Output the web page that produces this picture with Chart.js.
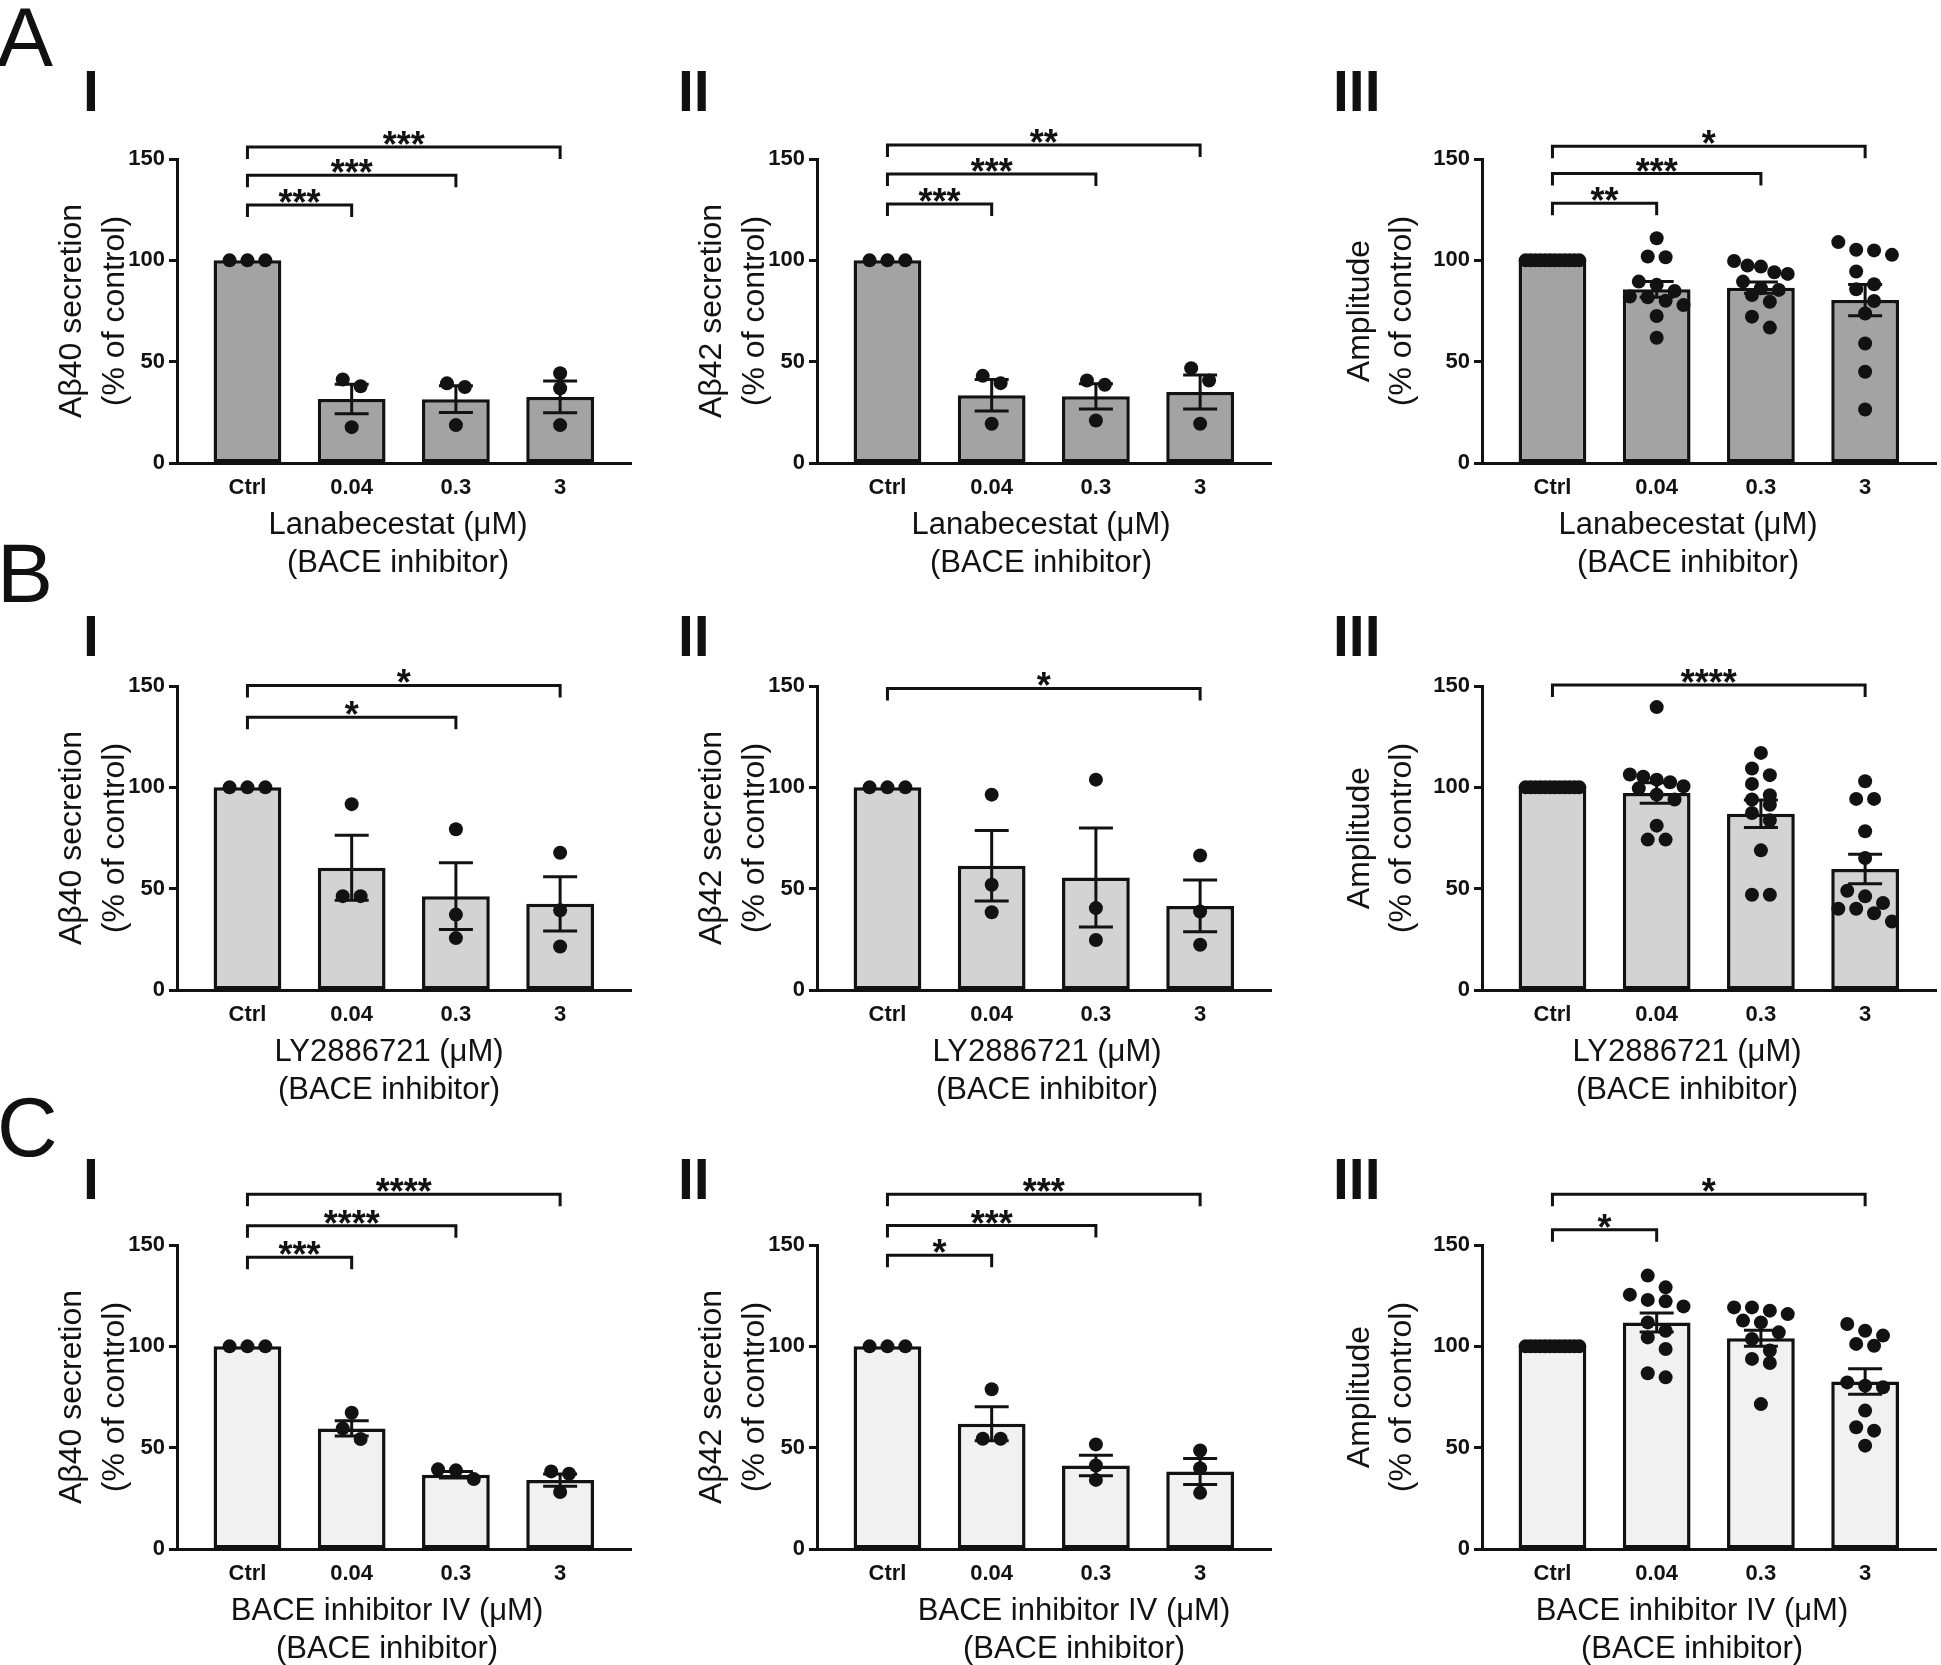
<!DOCTYPE html>
<html>
<head>
<meta charset="utf-8">
<script src="https://cdn.jsdelivr.net/npm/chart.js@4.4.1/dist/chart.umd.min.js"></script>
<style>
  html, body { margin: 0; padding: 0; background: #fff; }
  #page { position: relative; width: 1941px; height: 1665px; overflow: hidden; background: #fff; }
  #page canvas { position: absolute; }
  .lbl { position: absolute; font-family: "Liberation Sans", Arial, sans-serif; color: #111; line-height: 1; z-index: 2; }
  .big { font-size: 84px; }
  .roman { font-size: 57px; font-weight: bold; }
</style>
</head>
<body>
<div id="page">
  <div class="lbl big" style="left:-3px;top:-5px">A</div>
  <div class="lbl big" style="left:-3px;top:531px">B</div>
  <div class="lbl big" style="left:-3px;top:1085px">C</div>

  <div class="lbl roman" style="left:83px;top:63px">I</div>
  <div class="lbl roman" style="left:678px;top:63px">II</div>
  <div class="lbl roman" style="left:1333px;top:63px">III</div>
  <div class="lbl roman" style="left:83px;top:608px">I</div>
  <div class="lbl roman" style="left:678px;top:608px">II</div>
  <div class="lbl roman" style="left:1333px;top:608px">III</div>
  <div class="lbl roman" style="left:83px;top:1151px">I</div>
  <div class="lbl roman" style="left:678px;top:1151px">II</div>
  <div class="lbl roman" style="left:1333px;top:1151px">III</div>
</div>
<script>
// dose-response figure: Abeta secretion and amplitude for three BACE inhibitors

const categories = ["Ctrl", "0.04", "0.3", "3"];

// A - Lanabecestat
const lanaAb40Mean = [100, 31.6, 31.5, 32.6];
const lanaAb40Sem = [0, 7.3, 6.6, 7.8];
const lanaAb40Pts = [[100, 100, 100], [41.2, 37.9, 17.7], [39.3, 37.5, 18.7], [44.3, 36.9, 18.7]];
const lanaAb40Sig = [["***", 3, 155.9], ["***", 2, 142], ["***", 1, 127.3]];

const lanaAb42Mean = [100, 33.4, 32.9, 35];
const lanaAb42Sem = [0, 7.8, 6.2, 8.4];
const lanaAb42Pts = [[100, 100, 100], [43, 39.4, 19.4], [40.7, 38.6, 21], [46.8, 40.7, 19.4]];
const lanaAb42Sig = [["**", 3, 156.9], ["***", 2, 142.6], ["***", 1, 127.8]];

const lanaAmpMean = [100, 85.7, 86.5, 80.4];
const lanaAmpSem = [0, 3.9, 2.8, 7.7];
const lanaAmpPts = [
  [100, 100, 100, 100, 100, 100, 100, 100, 100, 100, 100, 100],
  [110.9, 101.9, 101.5, 89.5, 87.9, 84.9, 82.1, 81.8, 80, 77.9, 72.5, 61.8],
  [99.7, 97.4, 96.9, 94.1, 93.3, 89.5, 86.2, 85.4, 82.9, 79.6, 72.2, 66.8],
  [109, 105.2, 104.9, 102.7, 94.5, 88.2, 85.7, 79.9, 73.8, 59, 45, 26.4]
];
const lanaAmpSig = [["*", 3, 156.3], ["***", 2, 142.8], ["**", 1, 128.2]];

// B - LY2886721
const lyAb40Mean = [100, 60.3, 46.3, 42.5];
const lyAb40Sem = [0, 16, 16.5, 13.4];
const lyAb40Pts = [[100, 100, 100], [91.7, 46.3, 46.3], [79.3, 37.2, 25.6], [67.7, 39.3, 21.5]];
const lyAb40Sig = [["*", 3, 150.3], ["*", 2, 134.6]];

const lyAb42Mean = [100, 61.3, 55.5, 41.5];
const lyAb42Sem = [0, 17.4, 24.4, 12.8];
const lyAb42Pts = [[100, 100, 100], [96.4, 51.9, 38.4], [103.8, 40.4, 24.7], [66.4, 38.7, 22.3]];
const lyAb42Sig = [["*", 3, 148.8]];

const lyAmpMean = [100, 97.2, 87, 59.7];
const lyAmpSem = [0, 5.1, 6.8, 7.3];
const lyAmpPts = [
  [100, 100, 100, 100, 100, 100, 100, 100, 100, 100, 100, 100],
  [139.6, 106.3, 105.2, 103.8, 102.5, 100.5, 99.5, 96.4, 94, 81.1, 74.2, 74.2],
  [117, 109.3, 106, 101.7, 96.1, 94, 91.4, 87.3, 83.7, 68.9, 47, 47],
  [103, 94.3, 94.3, 78.3, 65.1, 49, 46.2, 42.9, 40.1, 40.1, 37.9, 33.8]
];
const lyAmpSig = [["****", 3, 150.5]];

// C - BACE inhibitor IV
const ivAb40Mean = [100, 59.5, 36.6, 34];
const ivAb40Sem = [0, 3.8, 1.6, 3];
const ivAb40Pts = [[100, 100, 100], [67.2, 59.5, 54.3], [39.3, 38.8, 34.5], [38.3, 37.1, 28.1]];
const ivAb40Sig = [["****", 3, 175], ["****", 2, 159.5], ["***", 1, 144]];

const ivAb42Mean = [100, 61.8, 41.2, 38.2];
const ivAb42Sem = [0, 8.4, 5, 6.4];
const ivAb42Pts = [[100, 100, 100], [78.8, 54.4, 54.4], [51.6, 41.2, 34.1], [48.6, 39.9, 27.7]];
const ivAb42Sig = [["***", 3, 175], ["***", 2, 159.6], ["*", 1, 145]];

const ivAmpMean = [100, 111.8, 104, 82.6];
const ivAmpSem = [0, 4.7, 3.9, 6.3];
const ivAmpPts = [
  [100, 100, 100, 100, 100, 100, 100, 100, 100, 100, 100, 100],
  [134.9, 129.1, 125.5, 122.9, 122.2, 119.7, 111.8, 107.7, 104.4, 98.7, 86.7, 84.7],
  [119.2, 119.2, 117.6, 115.9, 112.7, 111.8, 106.9, 103.6, 97.9, 93.8, 91.8, 71.5],
  [111, 107.7, 105.3, 101.2, 100.3, 82.2, 80.6, 79.8, 68.3, 60.1, 58.4, 51]
];
const ivAmpSig = [["*", 3, 175], ["*", 1, 157.5]];

const yAb40 = ["Aβ40 secretion", "(% of control)"];
const yAb42 = ["Aβ42 secretion", "(% of control)"];
const yAmp = ["Amplitude", "(% of control)"];
const xLana = ["Lanabecestat (μM)", "(BACE inhibitor)"];
const xLy = ["LY2886721 (μM)", "(BACE inhibitor)"];
const xIv = ["BACE inhibitor IV (μM)", "(BACE inhibitor)"];

// layout
const FONT = '"Liberation Sans", Arial, sans-serif';
const INK = "#121212";
const FILLS = ["#a3a3a3", "#d3d3d3", "#f1f1f1"];
const COL_AXIS = [177, 817, 1482];
const ROW_TOP = [159, 686, 1245];
const PLOT_W = 457, PLOT_H = 304;
const Y_W = 180, PAD_T = 100, X_H = 130, PAD_R = 4;
const X_MIN = -0.676, X_MAX = 3.68;
const PX_X = PLOT_W / (X_MAX - X_MIN);
const PX_Y = PLOT_H / 150;
const Y_TITLE_OFF = [[105, 62], [105, 62], [122, 80]];
const DOT_D = 13, DOT_GAP = 18, SPREAD = 54, CAP = 17;

const panels = [
  { row: 0, col: 0, y: yAb40, x: xLana, mean: lanaAb40Mean, sem: lanaAb40Sem, pts: lanaAb40Pts, sig: lanaAb40Sig, xOff: 221 },
  { row: 0, col: 1, y: yAb42, x: xLana, mean: lanaAb42Mean, sem: lanaAb42Sem, pts: lanaAb42Pts, sig: lanaAb42Sig, xOff: 224 },
  { row: 0, col: 2, y: yAmp, x: xLana, mean: lanaAmpMean, sem: lanaAmpSem, pts: lanaAmpPts, sig: lanaAmpSig, xOff: 206 },
  { row: 1, col: 0, y: yAb40, x: xLy, mean: lyAb40Mean, sem: lyAb40Sem, pts: lyAb40Pts, sig: lyAb40Sig, xOff: 212 },
  { row: 1, col: 1, y: yAb42, x: xLy, mean: lyAb42Mean, sem: lyAb42Sem, pts: lyAb42Pts, sig: lyAb42Sig, xOff: 230 },
  { row: 1, col: 2, y: yAmp, x: xLy, mean: lyAmpMean, sem: lyAmpSem, pts: lyAmpPts, sig: lyAmpSig, xOff: 205 },
  { row: 2, col: 0, y: yAb40, x: xIv, mean: ivAb40Mean, sem: ivAb40Sem, pts: ivAb40Pts, sig: ivAb40Sig, xOff: 210 },
  { row: 2, col: 1, y: yAb42, x: xIv, mean: ivAb42Mean, sem: ivAb42Sem, pts: ivAb42Pts, sig: ivAb42Sig, xOff: 257 },
  { row: 2, col: 2, y: yAmp, x: xIv, mean: ivAmpMean, sem: ivAmpSem, pts: ivAmpPts, sig: ivAmpSig, xOff: 210 }
];

// spread dots that sit at nearly the same height into a row, like a scatter dot plot
function swarm(vals, center) {
  const idx = vals.map((v, i) => i).sort((a, b) => vals[b] - vals[a]);
  const out = [];
  let i = 0;
  while (i < idx.length) {
    let j = i + 1;
    while (j < idx.length && (vals[idx[i]] - vals[idx[j]]) * PX_Y < DOT_D) j++;
    const row = idx.slice(i, j);
    const k = row.length;
    const step = k > 1 ? Math.min(DOT_GAP, SPREAD / (k - 1)) : 0;
    row.forEach((n, r) => out.push({ x: center + (r - (k - 1) / 2) * step / PX_X, y: vals[n] }));
    i = j;
  }
  return out;
}

function decoPlugin(p) {
  return {
    id: "deco",
    afterDatasetDraw(chart, args) {
      if (args.meta.type !== "bar") return;
      const ctx = chart.ctx, xs = chart.scales.x, ys = chart.scales.y;
      ctx.save();
      ctx.strokeStyle = INK;
      ctx.lineWidth = 3;
      p.mean.forEach((m, i) => {
        if (!p.sem[i]) return;
        const x = xs.getPixelForValue(i);
        const yt = ys.getPixelForValue(m + p.sem[i]);
        const yb = ys.getPixelForValue(m - p.sem[i]);
        ctx.beginPath();
        ctx.moveTo(x, yt); ctx.lineTo(x, yb);
        ctx.moveTo(x - CAP, yt); ctx.lineTo(x + CAP, yt);
        ctx.moveTo(x - CAP, yb); ctx.lineTo(x + CAP, yb);
        ctx.stroke();
      });
      ctx.restore();
    },
    afterDraw(chart) {
      const ctx = chart.ctx, xs = chart.scales.x, ys = chart.scales.y, a = chart.chartArea;
      ctx.save();
      // significance brackets
      ctx.strokeStyle = INK;
      ctx.fillStyle = INK;
      ctx.lineWidth = 3;
      ctx.font = "bold 36px " + FONT;
      ctx.textAlign = "center";
      ctx.textBaseline = "alphabetic";
      p.sig.forEach(([txt, to, v]) => {
        const y = ys.getPixelForValue(v);
        const x1 = xs.getPixelForValue(0), x2 = xs.getPixelForValue(to);
        ctx.beginPath();
        ctx.moveTo(x1, y + 12); ctx.lineTo(x1, y); ctx.lineTo(x2, y); ctx.lineTo(x2, y + 12);
        ctx.stroke();
        ctx.fillText(txt, (x1 + x2) / 2, y + 10);
      });
      // axis titles
      ctx.font = "32px " + FONT;
      ctx.textBaseline = "middle";
      const mid = (a.top + a.bottom) / 2;
      const offs = Y_TITLE_OFF[p.col];
      p.y.forEach((line, k) => {
        ctx.save();
        ctx.translate(a.left - offs[k], mid);
        ctx.rotate(-Math.PI / 2);
        ctx.fillText(line, 0, 0);
        ctx.restore();
      });
      ctx.font = "31px " + FONT;
      ctx.fillText(p.x[0], a.left + p.xOff, a.bottom + 62);
      ctx.fillText(p.x[1], a.left + p.xOff, a.bottom + 100);
      ctx.restore();
    }
  };
}

const page = document.getElementById("page");

panels.forEach(p => {
  const cv = document.createElement("canvas");
  cv.width = Y_W + PLOT_W + PAD_R;
  cv.height = PAD_T + PLOT_H + X_H;
  cv.style.left = (COL_AXIS[p.col] - Y_W) + "px";
  cv.style.top = (ROW_TOP[p.row] - PAD_T) + "px";
  page.appendChild(cv);

  const dots = [];
  p.pts.forEach((vals, i) => dots.push(...swarm(vals, i)));

  new Chart(cv, {
    type: "bar",
    data: {
      datasets: [
        {
          type: "scatter",
          data: dots,
          order: 1,
          pointRadius: 7,
          pointBackgroundColor: INK,
          pointBorderWidth: 0,
          clip: false
        },
        {
          type: "bar",
          data: p.mean.map((m, i) => ({ x: i, y: m })),
          order: 2,
          backgroundColor: FILLS[p.row],
          borderColor: INK,
          borderWidth: 3.5,
          borderSkipped: false,
          barPercentage: 0.65,
          categoryPercentage: 1
        }
      ]
    },
    options: {
      responsive: false,
      animation: false,
      events: [],
      layout: { padding: { top: PAD_T, right: PAD_R, left: 0, bottom: 0 } },
      plugins: { legend: { display: false }, tooltip: { enabled: false } },
      scales: {
        x: {
          type: "linear",
          min: X_MIN,
          max: X_MAX,
          offset: false,
          afterBuildTicks: s => { s.ticks = categories.map((c, i) => ({ value: i })); },
          afterFit: s => { s.height = X_H; },
          ticks: {
            autoSkip: false,
            maxRotation: 0,
            padding: 12,
            color: INK,
            font: { family: FONT, size: 22, weight: "bold" },
            callback: v => categories[v]
          },
          grid: { display: false, drawTicks: false, offset: false },
          border: { display: true, width: 3, color: INK }
        },
        y: {
          min: 0,
          max: 150,
          afterFit: s => { s.width = Y_W; },
          ticks: {
            stepSize: 50,
            padding: 4,
            color: INK,
            font: { family: FONT, size: 22, weight: "bold" }
          },
          grid: { drawOnChartArea: false, drawTicks: true, tickLength: 8, tickWidth: 3, tickColor: INK },
          border: { display: true, width: 3, color: INK }
        }
      }
    },
    plugins: [decoPlugin(p)]
  });
});
</script>
</body>
</html>
